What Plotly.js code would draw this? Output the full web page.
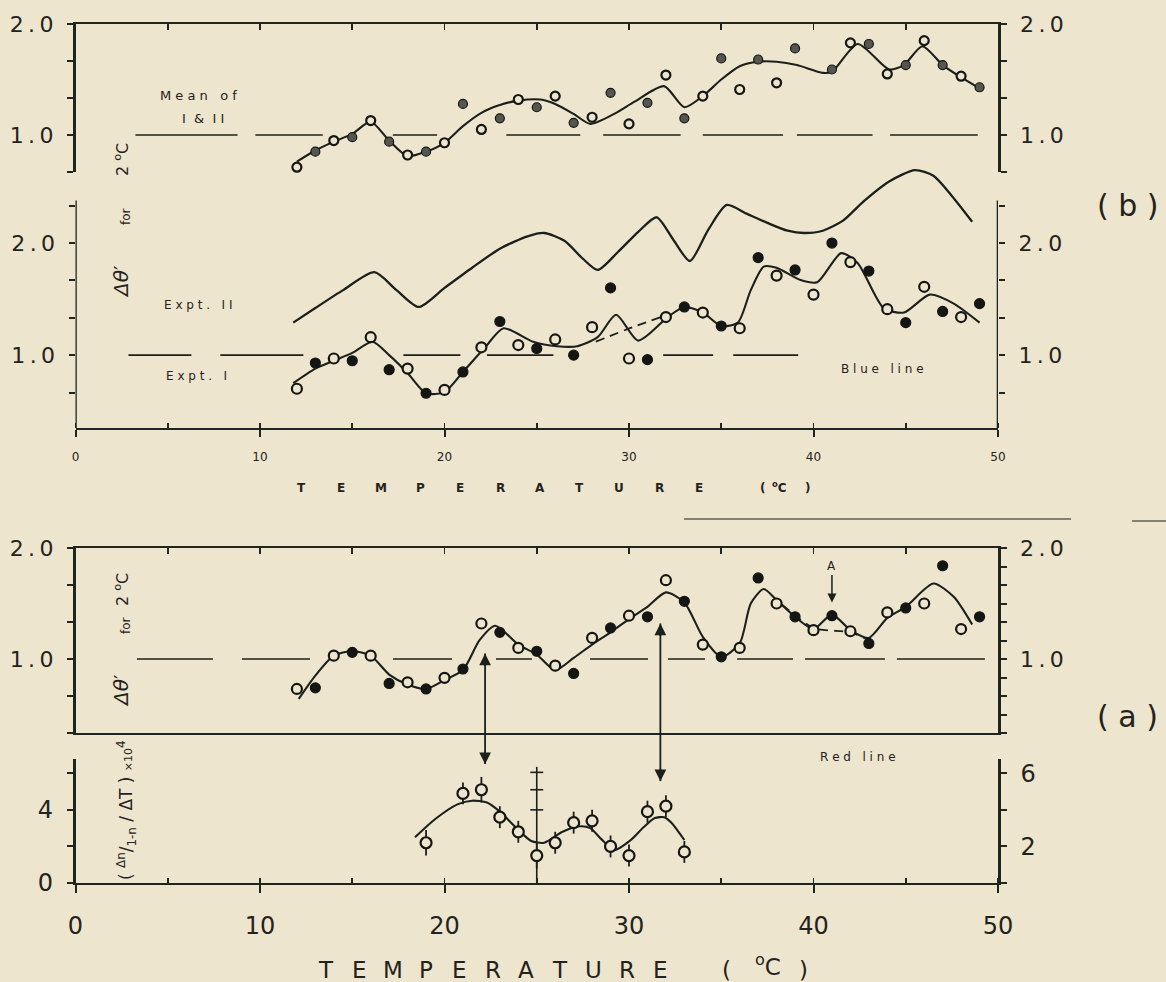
<!DOCTYPE html>
<html>
<head>
<meta charset="utf-8">
<script src="https://cdn.plot.ly/plotly-3.0.1.min.js"></script>
<style>
html,body{margin:0;padding:0;background:#eee5ce;}
#chart{width:1166px;height:982px;}
</style>
</head>
<body>
<div id="chart"></div>
<script>
// ================= DATA =================
// Panel (b) upper: Mean of I & II
const meanCurveT = [12, 13, 14, 15, 16, 17, 18, 19, 20, 21, 22, 23, 24, 25.2, 26, 27, 27.9, 29.2, 30.3, 31.9, 33, 34, 35, 36, 37, 38, 39.1, 40.5, 41, 42.4, 44.1, 44.9, 45.9, 47, 47.9, 49];
const meanCurveV = [0.76, 0.86, 0.94, 1.01, 1.12, 0.95, 0.81, 0.85, 0.93, 1.08, 1.2, 1.27, 1.31, 1.32, 1.28, 1.19, 1.1, 1.19, 1.3, 1.44, 1.25, 1.35, 1.5, 1.62, 1.66, 1.66, 1.63, 1.56, 1.57, 1.82, 1.59, 1.63, 1.8, 1.63, 1.53, 1.42];
const meanOpenT = [12, 14, 16, 18, 20, 22, 24, 26, 28, 30, 32, 34, 36, 38, 42, 44, 46, 48];
const meanOpenV = [0.71, 0.95, 1.13, 0.82, 0.93, 1.05, 1.32, 1.35, 1.16, 1.1, 1.54, 1.35, 1.41, 1.47, 1.83, 1.55, 1.85, 1.53];
const meanFilledT = [13, 15, 17, 19, 21, 23, 25, 27, 29, 31, 33, 35, 37, 39, 41, 43, 45, 47, 49];
const meanFilledV = [0.85, 0.98, 0.94, 0.85, 1.28, 1.15, 1.25, 1.11, 1.38, 1.29, 1.15, 1.69, 1.68, 1.78, 1.59, 1.82, 1.63, 1.63, 1.43];
const meanRefStart = [3.25, 9.75, 17.2, 23.35, 28.6, 34.0, 39.1, 44.15];
const meanRefEnd   = [8.78, 13.4, 19.6, 27.36, 32.8, 38.35, 43.2, 48.9];

// Panel (b) lower: Expt. II curve, Expt. I points and curve
const exp2CurveT = [11.8, 13, 14.5, 16.2, 17.4, 18.6, 20, 21.5, 23, 24.5, 25.4, 26.5, 27.5, 28.3, 29.4, 30.5, 31.5, 32.4, 33.3, 34.3, 35.3, 36.4, 37.5, 38.6, 39.5, 40.5, 41.6, 42.7, 44.1, 45.5, 46.5, 47.5, 48.6];
const exp2CurveV = [1.29, 1.42, 1.58, 1.74, 1.58, 1.43, 1.6, 1.78, 1.95, 2.06, 2.09, 2.02, 1.86, 1.76, 1.92, 2.1, 2.23, 2.03, 1.84, 2.12, 2.34, 2.26, 2.18, 2.11, 2.09, 2.11, 2.2, 2.37, 2.55, 2.65, 2.6, 2.42, 2.19];
const exp1CurveT = [11.8, 13, 14, 15, 16.1, 17, 18, 19, 20, 21, 22.2, 23.2, 24.8, 26.1, 27.2, 28.3, 29.3, 30.5, 32.1, 33, 34, 35, 35.9, 36.6, 37.3, 38, 39.3, 40.2, 41.5, 42.4, 43.8, 44.9, 46.3, 47.6, 49];
const exp1CurveV = [0.75, 0.88, 0.95, 1.02, 1.12, 1.0, 0.84, 0.66, 0.67, 0.85, 1.07, 1.24, 1.12, 1.08, 1.08, 1.16, 1.36, 1.13, 1.34, 1.43, 1.38, 1.26, 1.29, 1.58, 1.79, 1.78, 1.67, 1.65, 1.91, 1.82, 1.42, 1.38, 1.54, 1.46, 1.29];
const exp1DashT = [28.2, 30.2, 32.1];
const exp1DashV = [1.12, 1.25, 1.36];
const exp1OpenT = [12, 14, 16, 18, 20, 22, 24, 26, 28, 30, 32, 34, 36, 38, 40, 42, 44, 46, 48];
const exp1OpenV = [0.70, 0.97, 1.16, 0.88, 0.69, 1.07, 1.09, 1.14, 1.25, 0.97, 1.34, 1.38, 1.24, 1.71, 1.54, 1.83, 1.41, 1.61, 1.34];
const exp1FilledT = [13, 15, 17, 19, 21, 23, 25, 27, 29, 31, 33, 35, 37, 39, 41, 43, 45, 47, 49];
const exp1FilledV = [0.93, 0.95, 0.87, 0.66, 0.85, 1.30, 1.06, 1.0, 1.6, 0.96, 1.43, 1.26, 1.87, 1.76, 2.0, 1.75, 1.29, 1.39, 1.46];
const exp1RefStart = [2.87, 7.85, 17.77, 22.3, 31.85, 35.65];
const exp1RefEnd   = [6.28, 12.35, 20.86, 25.9, 34.56, 39.17];

// Panel (a) upper: red line
const redCurveT = [12.1, 13, 14, 15, 16, 17, 18, 19, 20, 21, 21.9, 22.75, 24, 25, 26, 27, 28, 29, 30, 31, 32, 33, 34, 35, 36, 36.6, 37.3, 38, 39, 40, 41, 42, 43, 44, 45, 46.5, 47.6, 48.6];
const redCurveV = [0.64, 0.85, 1.03, 1.07, 1.03, 0.86, 0.77, 0.73, 0.81, 0.9, 1.17, 1.3, 1.13, 1.04, 0.9, 1.01, 1.13, 1.24, 1.36, 1.47, 1.6, 1.51, 1.2, 1.02, 1.14, 1.5, 1.63, 1.53, 1.38, 1.27, 1.4, 1.26, 1.19, 1.37, 1.47, 1.68, 1.56, 1.31];
const redDashT = [38.3, 40, 42, 43];
const redDashV = [1.49, 1.28, 1.24, 1.17];
const redOpenT = [12, 14, 16, 18, 20, 22, 24, 26, 28, 30, 32, 34, 36, 38, 40, 42, 44, 46, 48];
const redOpenV = [0.73, 1.03, 1.03, 0.79, 0.83, 1.32, 1.1, 0.94, 1.19, 1.39, 1.71, 1.13, 1.1, 1.5, 1.26, 1.25, 1.42, 1.5, 1.27];
const redFilledT = [13, 15, 17, 19, 21, 23, 25, 27, 29, 31, 33, 35, 37, 39, 41, 43, 45, 47, 49];
const redFilledV = [0.74, 1.06, 0.78, 0.73, 0.91, 1.24, 1.07, 0.87, 1.28, 1.38, 1.52, 1.02, 1.73, 1.38, 1.39, 1.14, 1.46, 1.84, 1.38];
const redRefStart = [3.33, 9.02, 17.21, 22.79, 27.89, 32.11, 35.86, 39.54, 44.52];
const redRefEnd   = [7.45, 12.71, 20.41, 24.74, 31.03, 34.12, 38.89, 43.87, 49.29];

// Panel (a) lower: (Δn/(1-n)/ΔT) x 10^4
const dnT = [19, 21, 22, 23, 24, 25, 26, 27, 28, 29, 30, 31, 32, 33];
const dnV = [2.2, 4.9, 5.1, 3.6, 2.8, 1.5, 2.2, 3.3, 3.4, 2.0, 1.5, 3.9, 4.2, 1.7];
const dnErr = [0.7, 0.6, 0.7, 0.6, 0.6, 0.7, 0.6, 0.6, 0.6, 0.6, 0.6, 0.6, 0.6, 0.6];
const dnCurveT = [18.4, 19.5, 20.7, 21.5, 22.3, 23, 24, 24.7, 25.4, 26.4, 27.3, 27.9, 28.5, 29.2, 30.1, 30.8, 31.4, 31.9, 32.3, 33];
const dnCurveV = [2.5, 3.5, 4.3, 4.5, 4.4, 3.9, 2.9, 2.3, 2.2, 2.8, 3.1, 3.0, 2.4, 1.8, 2.35, 3.06, 3.55, 3.6, 3.3, 2.35];
const scaleBarT = 25;
const scaleBarTicks = [6.05, 5.1, 4.0];

const refLevel = 1.0;
// tick positions and labels
const dThetaLabelVals = [1, 2];
const dThetaLabelText = ['1\u2009.\u20090', '2\u2009.\u20090'];
const thirdsMinor = [1/3, 2/3, 4/3, 5/3, 7/3];
const sixthsMinor = [1/3, 1/2, 2/3, 5/6, 7/6, 4/3, 3/2, 5/3, 11/6];
const dnLeftVals = [0, 4], dnLeftText = ['0', '4'];
const dnRightVals = [2, 6], dnRightText = ['2', '6'];
const dnLeftMinor = [2, 6], dnRightMinor = [0, 4];

// ================= STYLE / LAYOUT =================
const W = 1166, H = 982;
const BG = '#eee5ce', INK = '#1b201b', AX = '#1f261f', TXT = '#23231d';
const FONT = 'DejaVu Sans';
const fx = p => p / W;
const fy = p => 1 - p / H;
const xDom = [fx(75.5), fx(998)];

function refSegs(s, e) {
  const x = [], y = [];
  for (let i = 0; i < s.length; i++) { x.push(s[i], e[i], null); y.push(refLevel, refLevel, null); }
  return {x, y};
}

const traces = [];
function line(x, y, xa, ya, dash, w) {
  traces.push({type:'scatter', mode:'lines', x, y, xaxis:xa, yaxis:ya,
    line:{color:INK, width:w||2.1, shape:'spline', smoothing:0.7, dash:dash||'solid'}, hoverinfo:'skip'});
}
function ref(seg, xa, ya) {
  traces.push({type:'scatter', mode:'lines', x:seg.x, y:seg.y, xaxis:xa, yaxis:ya,
    line:{color:INK, width:1.6}, connectgaps:false, hoverinfo:'skip'});
}
function pts(x, y, xa, ya, filled, size, fillc) {
  traces.push({type:'scatter', mode:'markers', x, y, xaxis:xa, yaxis:ya, cliponaxis:false,
    marker:{symbol:'circle', size:size, color: filled ? (fillc || '#141614') : BG,
      line:{color:'#141614', width: filled ? 1.2 : 2.2}}, hoverinfo:'skip'});
}

// panel 1 (x4, y)
ref(refSegs(meanRefStart, meanRefEnd), 'x4', 'y');
line(meanCurveT, meanCurveV, 'x4', 'y');
pts(meanOpenT, meanOpenV, 'x4', 'y', false, 9);
pts(meanFilledT, meanFilledV, 'x4', 'y', true, 9, '#55574f');
// panel 2 (x2, y2)
ref(refSegs(exp1RefStart, exp1RefEnd), 'x2', 'y2');
line(exp2CurveT, exp2CurveV, 'x2', 'y2', 'solid', 2.3);
line(exp1CurveT, exp1CurveV, 'x2', 'y2');
line(exp1DashT, exp1DashV, 'x2', 'y2', '9px,6px', 1.8);
pts(exp1OpenT, exp1OpenV, 'x2', 'y2', false, 10);
pts(exp1FilledT, exp1FilledV, 'x2', 'y2', true, 10);
// panel 3 (x3, y3)
ref(refSegs(redRefStart, redRefEnd), 'x3', 'y3');
line(redCurveT, redCurveV, 'x3', 'y3');
line(redDashT, redDashV, 'x3', 'y3', '9px,6px', 1.8);
pts(redOpenT, redOpenV, 'x3', 'y3', false, 10);
pts(redFilledT, redFilledV, 'x3', 'y3', true, 10);
// panel 4 (x, y4)
line(dnCurveT, dnCurveV, 'x', 'y4', 'solid', 2.1);
traces.push({type:'scatter', mode:'markers', x:dnT, y:dnV, xaxis:'x', yaxis:'y4', cliponaxis:false,
  error_y:{type:'data', array:dnErr, visible:true, width:0, thickness:1.8, color:INK},
  marker:{symbol:'circle', size:11, color:BG, line:{color:'#141614', width:2.2}}, hoverinfo:'skip'});
// empty traces for the right-hand axes
[['x4','y5'],['x2','y6'],['x3','y7'],['x','y8']].forEach(p => traces.push({type:'scatter', mode:'markers', x:[], y:[], xaxis:p[0], yaxis:p[1], hoverinfo:'skip'}));

const bigTick = {family:FONT, size:22, color:TXT};
function yAx(extra, minorVals) {
  return Object.assign({showgrid:false, zeroline:false, ticks:'outside', ticklen:6, tickwidth:2, tickcolor:AX,
    tickmode:'array', tickvals:dThetaLabelVals, ticktext:dThetaLabelText,
    minor:{tickmode:'array', tickvals:minorVals, ticks:'outside', ticklen:6, tickwidth:2, tickcolor:AX, showgrid:false},
    showline:true, linewidth:2.6, linecolor:AX, tickfont:bigTick, ticklabelstandoff:9, fixedrange:true}, extra);
}
function topAx(anchor, mirror) {
  return {domain:xDom, range:[0,50], anchor, side:'top', showline:true, linewidth:2, linecolor:AX, mirror,
    ticks:'inside', tick0:0, dtick:5, ticklen:6, tickwidth:1.8, tickcolor:AX, showticklabels:false,
    showgrid:false, zeroline:false, fixedrange:true};
}
function botAx(anchor, size, len, stand) {
  return {domain:xDom, range:[0,50], anchor, side:'bottom', showline:true, linewidth:2.4, linecolor:AX,
    ticks:'outside', tick0:0, dtick:10, ticklen:len, tickwidth:2, tickcolor:AX,
    minor:{ticks:'inside', tick0:0, dtick:5, ticklen:5, tickwidth:1.6, tickcolor:AX},
    tickfont:{family:FONT, size, color:TXT}, ticklabelstandoff:stand,
    showgrid:false, zeroline:false, fixedrange:true};
}

const y1 = {domain:[fy(172), fy(24)], range:[2/3, 2]};
const y2 = {domain:[fy(428), fy(159)], range:[0.35, 2.75]};
const y3 = {domain:[fy(733), fy(548)], range:[1/3, 2]};
const y4 = {domain:[fy(883), fy(759)], range:[0, 6.78]};
const dnFont = {family:FONT, size:24, color:TXT};

const layout = {
  width:W, height:H, margin:{l:0,r:0,t:0,b:0}, autosize:false,
  paper_bgcolor:BG, plot_bgcolor:'rgba(0,0,0,0)', showlegend:false, hovermode:false,
  font:{family:FONT, color:TXT},
  xaxis: botAx('y4', 24, 8, 12),
  xaxis2: botAx('y2', 12, 7, 9),
  xaxis3: topAx('y3', true),
  xaxis4: topAx('y', false),
  yaxis: yAx({domain:y1.domain, range:y1.range, anchor:'x4'}, thirdsMinor),
  yaxis5: yAx({overlaying:'y', side:'right', anchor:'x4', range:y1.range}, thirdsMinor),
  yaxis2: yAx({domain:y2.domain, range:y2.range, anchor:'x2', showline:false}, thirdsMinor),
  yaxis6: yAx({overlaying:'y2', side:'right', anchor:'x2', showline:false, range:y2.range}, thirdsMinor),
  yaxis3: yAx({domain:y3.domain, range:y3.range, anchor:'x3'}, thirdsMinor),
  yaxis7: yAx({overlaying:'y3', side:'right', anchor:'x3', range:y3.range}, sixthsMinor),
  yaxis4: yAx({domain:y4.domain, range:y4.range, anchor:'x', tickvals:dnLeftVals, ticktext:dnLeftText, tickfont:dnFont}, dnLeftMinor),
  yaxis8: yAx({overlaying:'y4', side:'right', anchor:'x', range:y4.range, tickvals:dnRightVals, ticktext:dnRightText, tickfont:dnFont}, dnRightMinor),
  shapes: [], annotations: []
};

// panel 2 axis lines (stop below the Expt II curve region)
[0, 50].forEach(xv => layout.shapes.push({type:'line', xref:'x2', yref:'y2', x0:xv, x1:xv, y0:0.35, y1:2.38, line:{color:AX, width:2.6}}));
// scale bar at 25 °C in bottom panel
layout.shapes.push({type:'line', layer:'below', xref:'x', yref:'y4', x0:scaleBarT, x1:scaleBarT, y0:0.05, y1:6.35, line:{color:INK, width:1.6}});
scaleBarTicks.forEach(v => layout.shapes.push({type:'line', xref:'x', yref:'y4', x0:scaleBarT-0.35, x1:scaleBarT+0.35, y0:v, y1:v, line:{color:INK, width:1.6}}));
// paper cut marks
layout.shapes.push({type:'line', xref:'paper', yref:'paper', x0:fx(684), x1:fx(1071), y0:fy(519), y1:fy(519), line:{color:'#5f5f55', width:1.4}});
layout.shapes.push({type:'line', xref:'paper', yref:'paper', x0:fx(1132), x1:fx(1166), y0:fy(521), y1:fy(521), line:{color:'#5f5f55', width:1.4}});
// arrows linking panels (drawn as lines + arrowheads)
const arrowDefs = [{x:22.2, topY:1.05, botY:6.5}, {x:31.7, topY:1.32, botY:5.57}];

function txt(text, px, py, size, extra) {
  layout.annotations.push(Object.assign({text, xref:'paper', yref:'paper', x:fx(px), y:fy(py), showarrow:false,
    xanchor:'center', yanchor:'middle', font:{family:FONT, size, color:TXT}}, extra||{}));
}
txt('M e a n&nbsp;&nbsp; o f', 198, 95, 13);
txt('I&nbsp; &amp;&nbsp; I I', 203, 118, 13);
txt('E x p t .&nbsp;&nbsp; I I', 198, 305, 12);
txt('E x p t .&nbsp;&nbsp; I', 196, 376, 12);
txt('B l u e&nbsp;&nbsp; l i n e', 882, 369, 12);
txt('R e d&nbsp;&nbsp; l i n e', 858, 757, 12);
txt('( b )', 1128, 205, 30);
txt('( a )', 1127, 716, 30);
// rotated y titles
[[282, 160, 217], [691, 590, 626]].forEach(p => {
  txt('<i>Δθ</i>′', 121, p[0], 20, {textangle:-90});
  txt('for', 126, p[2], 12, {textangle:-90});
  txt('2 <sup>o</sup>C', 121, p[1], 16, {textangle:-90});
});
txt('( <sup>Δn</sup>/<sub>1-n</sub> / ΔT ) <span style="font-size:11px">×10</span><sup>4</sup>', 126, 810, 17, {textangle:-90});
// axis titles letter by letter
const word = 'TEMPERATURE'.split('');
word.forEach((c, i) => txt('<b>' + c + '</b>', 301 + i * 39.8, 488, 12));
txt('<b>(</b>', 762, 488, 12); txt('<b><sup>o</sup>C</b>', 779, 487, 12); txt('<b>)</b>', 807, 488, 12);
word.forEach((c, i) => txt(c, 326 + i * 33.4, 970, 23));
txt('(', 726, 970, 23); txt('<sup>o</sup>C', 768, 965, 23); txt(')', 803, 970, 23);
// double-headed arrows: bottom head in lower panel, top head in upper (a) panel
arrowDefs.forEach(a => {
  layout.shapes.push({type:'line', xref:'x', yref:'paper', x0:a.x, x1:a.x,
    y0: fy(883 - a.botY * (124 / 6.78)) , y1: fy(548 + (2 - a.topY) * 111), line:{color:INK, width:1.8}});
});
layout.annotations.push({text:'A', x:41, y:1.51, xref:'x3', yref:'y3', ax:0, ay:-36, showarrow:true,
  arrowhead:2, arrowsize:1.2, arrowwidth:1.5, arrowcolor:INK, font:{family:FONT, size:12, color:TXT}});
// arrow heads as small annotation arrows
arrowDefs.forEach(a => {
  layout.annotations.push({text:'', x:a.x, y:a.botY, xref:'x', yref:'y4', ax:0, ay:-14, showarrow:true,
    arrowhead:2, arrowsize:1.3, arrowwidth:1.8, arrowcolor:INK});
  layout.annotations.push({text:'', x:a.x, y:a.topY, xref:'x3', yref:'y3', ax:0, ay:14, showarrow:true,
    arrowhead:2, arrowsize:1.3, arrowwidth:1.8, arrowcolor:INK});
});

Plotly.newPlot('chart', traces, layout, {staticPlot:true, displayModeBar:false});
</script>
</body>
</html>
